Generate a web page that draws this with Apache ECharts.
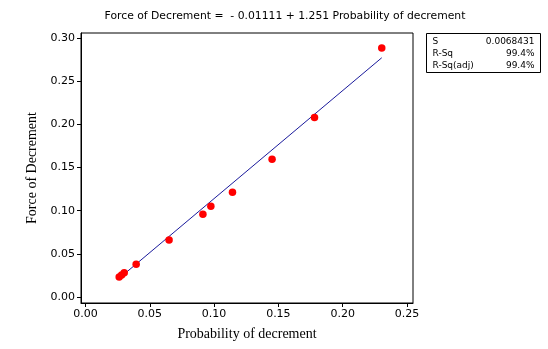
<!DOCTYPE html>
<html>
<head>
<meta charset="utf-8">
<script src="https://cdn.jsdelivr.net/npm/echarts@6/dist/echarts.min.js"></script>
<style>
  html, body { margin: 0; padding: 0; background: #fff; }
  #main { width: 548px; height: 349px; }
</style>
</head>
<body>
<div id="main"></div>
<script>
// observed points (Probability of decrement, Force of Decrement)
var probValues = [0.0262, 0.0281, 0.0301, 0.0394, 0.0650, 0.0913, 0.0975, 0.1143, 0.1451, 0.1781, 0.2304];
var forceValues = [0.0232, 0.0255, 0.0282, 0.0379, 0.0660, 0.0958, 0.1051, 0.1213, 0.1596, 0.2078, 0.2885];
// fitted line: y = a + b x
var fitIntercept = -0.01111;
var fitSlope = 1.251;
var xTicks = [0, 0.05, 0.10, 0.15, 0.20, 0.25];
var yTicks = [0, 0.05, 0.10, 0.15, 0.20, 0.25, 0.30];
var statNames = ['S', 'R-Sq', 'R-Sq(adj)'];
var statValues = ['0.0068431', '99.4%', '99.4%'];

var points = probValues.map(function (x, i) { return [x, forceValues[i]]; });
var xMin = Math.min.apply(null, probValues);
var xMax = Math.max.apply(null, probValues);
var fitLine = [
  [xMin, fitIntercept + fitSlope * xMin],
  [xMax, fitIntercept + fitSlope * xMax]
];

var tickFont = { color: '#000', fontFamily: 'DejaVu Sans', fontSize: 11 };
var nameFont = { color: '#000', fontFamily: 'Liberation Serif', fontSize: 14 };

// S / R-Sq box
var statChildren = [{
  type: 'rect',
  shape: { x: 0, y: 0, width: 114, height: 39 },
  style: { fill: '#fff', stroke: '#000', lineWidth: 1 }
}];
statNames.forEach(function (name, i) {
  statChildren.push({
    type: 'text', x: 6, y: 8 + i * 12,
    style: { text: name, fill: '#000', font: '9px DejaVu Sans', verticalAlign: 'middle' }
  });
  statChildren.push({
    type: 'text', x: 108, y: 8 + i * 12,
    style: { text: statValues[i], fill: '#000', font: '9px DejaVu Sans', align: 'right', verticalAlign: 'middle' }
  });
});

var option = {
  animation: false,
  backgroundColor: '#fff',
  title: {
    text: 'Force of Decrement =  - 0.01111 + 1.251 Probability of decrement',
    left: 280,
    textAlign: 'center',
    top: 6,
    textStyle: { color: '#000', fontFamily: 'DejaVu Sans', fontSize: 10.8, fontWeight: 'normal' }
  },
  grid: { left: 81, right: 135, top: 33, bottom: 46, show: true, borderColor: '#000', borderWidth: 1 },
  xAxis: {
    type: 'value',
    min: -0.0035,
    max: 0.2547,
    name: 'Probability of decrement',
    nameLocation: 'middle',
    nameGap: 24,
    nameTextStyle: nameFont,
    axisLine: { show: true, onZero: false, lineStyle: { color: '#000', width: 1 } },
    axisTick: { show: true, length: 4, customValues: xTicks, lineStyle: { color: '#000' } },
    axisLabel: Object.assign({ customValues: xTicks, margin: 6, formatter: function (v) { return v.toFixed(2); } }, tickFont),
    splitLine: { show: false }
  },
  yAxis: {
    type: 'value',
    min: -0.00695,
    max: 0.3058,
    name: 'Force of Decrement',
    nameLocation: 'middle',
    nameGap: 40,
    nameTextStyle: nameFont,
    axisLine: { show: true, onZero: false, lineStyle: { color: '#000', width: 1 } },
    axisTick: { show: true, length: 4, customValues: yTicks, lineStyle: { color: '#000' } },
    axisLabel: Object.assign({ customValues: yTicks, margin: 6, formatter: function (v) { return v.toFixed(2); } }, tickFont),
    splitLine: { show: false }
  },
  series: [
    {
      name: 'fit',
      type: 'line',
      data: fitLine,
      symbol: 'none',
      lineStyle: { color: '#1a1a9c', width: 1 },
      z: 2
    },
    {
      name: 'data',
      type: 'scatter',
      data: points,
      symbol: 'circle',
      symbolSize: 7.5,
      itemStyle: { color: '#f00', opacity: 1 },
      z: 3
    }
  ],
  graphic: [{
    type: 'group',
    left: 426,
    top: 33,
    children: statChildren
  }]
};

var chart = echarts.init(document.getElementById('main'));
chart.setOption(option);
</script>
</body>
</html>
